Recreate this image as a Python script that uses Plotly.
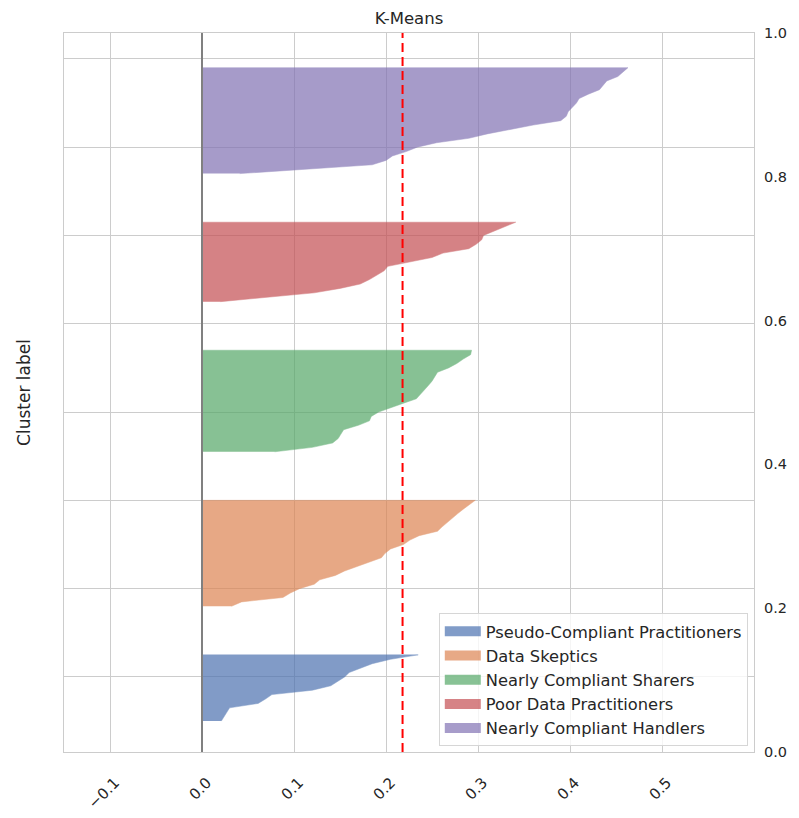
import numpy as np
import plotly.graph_objects as go

# ---- data (silhouette values per cluster, sorted ascending) ----
cluster_names = [
    "Pseudo-Compliant Practitioners",
    "Data Skeptics",
    "Nearly Compliant Sharers",
    "Poor Data Practitioners",
    "Nearly Compliant Handlers",
]
sil_pseudo = [0.021, 0.024, 0.027, 0.030, 0.061, 0.069, 0.076, 0.120, 0.140, 0.148,
              0.155, 0.160, 0.172, 0.185, 0.205, 0.235]
sil_skeptics = [0.032, 0.043, 0.088, 0.096, 0.106, 0.122, 0.128, 0.145, 0.155, 0.167,
                0.181, 0.195, 0.199, 0.205, 0.219, 0.226, 0.236, 0.256, 0.261, 0.266,
                0.272, 0.278, 0.284, 0.290, 0.297]
sil_sharers = [0.079, 0.120, 0.142, 0.148, 0.151, 0.154, 0.170, 0.182, 0.184, 0.192,
               0.205, 0.219, 0.233, 0.238, 0.242, 0.246, 0.250, 0.253, 0.256, 0.268,
               0.277, 0.284, 0.292, 0.293]
sil_poor = [0.020, 0.070, 0.122, 0.150, 0.172, 0.182, 0.190, 0.198, 0.202, 0.225,
            0.250, 0.262, 0.290, 0.298, 0.304, 0.306, 0.318, 0.330, 0.341]
sil_handlers = [0.041, 0.110, 0.185, 0.200, 0.207, 0.222, 0.234, 0.255, 0.290, 0.310,
                0.333, 0.360, 0.390, 0.396, 0.398, 0.402, 0.407, 0.410, 0.420, 0.432,
                0.436, 0.440, 0.452, 0.458, 0.463]
silhouette_avg = 0.218

x_tick_vals = [-0.1, 0.0, 0.1, 0.2, 0.3, 0.4, 0.5]
x_tick_text = ["\u22120.1", "0.0", "0.1", "0.2", "0.3", "0.4", "0.5"]
y2_tick_vals = [0.0, 0.2, 0.4, 0.6, 0.8, 1.0]

colors = ["rgb(76,114,176)", "rgb(221,132,82)", "rgb(85,168,104)",
          "rgb(196,78,82)", "rgb(129,114,179)"]

FONT = "DejaVu Sans"
TXT = "#262626"
GRID = "#cccccc"

fig = go.Figure()

all_sil = [sil_pseudo, sil_skeptics, sil_sharers, sil_poor, sil_handlers]
y_lower = 10
GAP = 11
for i, (name, vals) in enumerate(zip(cluster_names, all_sil)):
    vals = np.asarray(vals)
    n = len(vals)
    y = y_lower + np.arange(n)
    xs = np.concatenate([[0.0, 0.0], vals[::-1]])
    ys = np.concatenate([[y[0], y[-1]], y[::-1]])
    fig.add_trace(go.Scatter(
        x=xs, y=ys, fill="toself", mode="lines",
        line=dict(color=colors[i], width=0.5),
        fillcolor=colors[i], opacity=0.7,
        name=name, showlegend=False, hoverinfo="skip",
    ))
    y_lower = y_lower + (n - 1) + GAP

# legend patches
for i, name in enumerate(cluster_names):
    fig.add_trace(go.Scatter(
        x=[None], y=[None], mode="lines", name=name, legendgroup=f"g{i}",
        line=dict(color=colors[i], width=12), opacity=0.7, showlegend=True,
    ))

# dummy trace so the right axis is shown
fig.add_trace(go.Scatter(x=[None], y=[None], yaxis="y2", showlegend=False))

fig.add_shape(type="line", xref="x", yref="paper", x0=0, x1=0, y0=0, y1=1,
              line=dict(color="rgb(128,128,128)", width=2))
fig.add_shape(type="line", xref="x", yref="paper", x0=silhouette_avg, x1=silhouette_avg,
              y0=0, y1=1, line=dict(color="red", width=2, dash="9px,5px"))

fig.update_layout(
    width=791, height=810, autosize=False,
    margin=dict(l=56, r=45, t=25, b=66),
    paper_bgcolor="white", plot_bgcolor="white",
    font=dict(family=FONT, size=14.5, color=TXT),
    title=dict(text="K-Means", x=0.5, xref="paper", xanchor="center",
               y=1 - 10 / 810, yref="container", yanchor="middle",
               font=dict(size=16.5, color=TXT)),
    showlegend=True,
    legend=dict(x=0.991, y=0.008, xanchor="right", yanchor="bottom",
                bgcolor="rgba(255,255,255,0.8)", bordercolor="#d6d6d6", borderwidth=1,
                font=dict(size=16.3, color=TXT), tracegroupgap=4,
                traceorder="normal", itemwidth=36),
    xaxis=dict(range=[-0.15, 0.6], tickmode="array", tickvals=x_tick_vals,
               ticktext=x_tick_text, tickangle=-45, showgrid=True, gridcolor=GRID,
               gridwidth=1, zeroline=False, showline=True, mirror=True, linecolor=GRID,
               linewidth=1, ticks="", ticklabelstandoff=15, ticklabelshift=5,
               automargin=False, tickfont=dict(size=15, color=TXT)),
    yaxis=dict(range=[3, 165.85], tickmode="linear", tick0=0, dtick=20,
               showticklabels=False, showgrid=True, gridcolor=GRID, gridwidth=1,
               zeroline=False, showline=True, mirror=True, linecolor=GRID, linewidth=1,
               ticks="", automargin=False,
               title=dict(text="Cluster label", standoff=28,
                          font=dict(size=17, color=TXT))),
    yaxis2=dict(range=[0, 1], overlaying="y", side="right", tickmode="array",
                tickvals=y2_tick_vals, tickformat=".1f", showgrid=False,
                zeroline=False, showline=False, ticks="", ticklabelstandoff=9,
                automargin=False, tickfont=dict(size=14.5, color=TXT)),
)

fig.write_html("out.html")
